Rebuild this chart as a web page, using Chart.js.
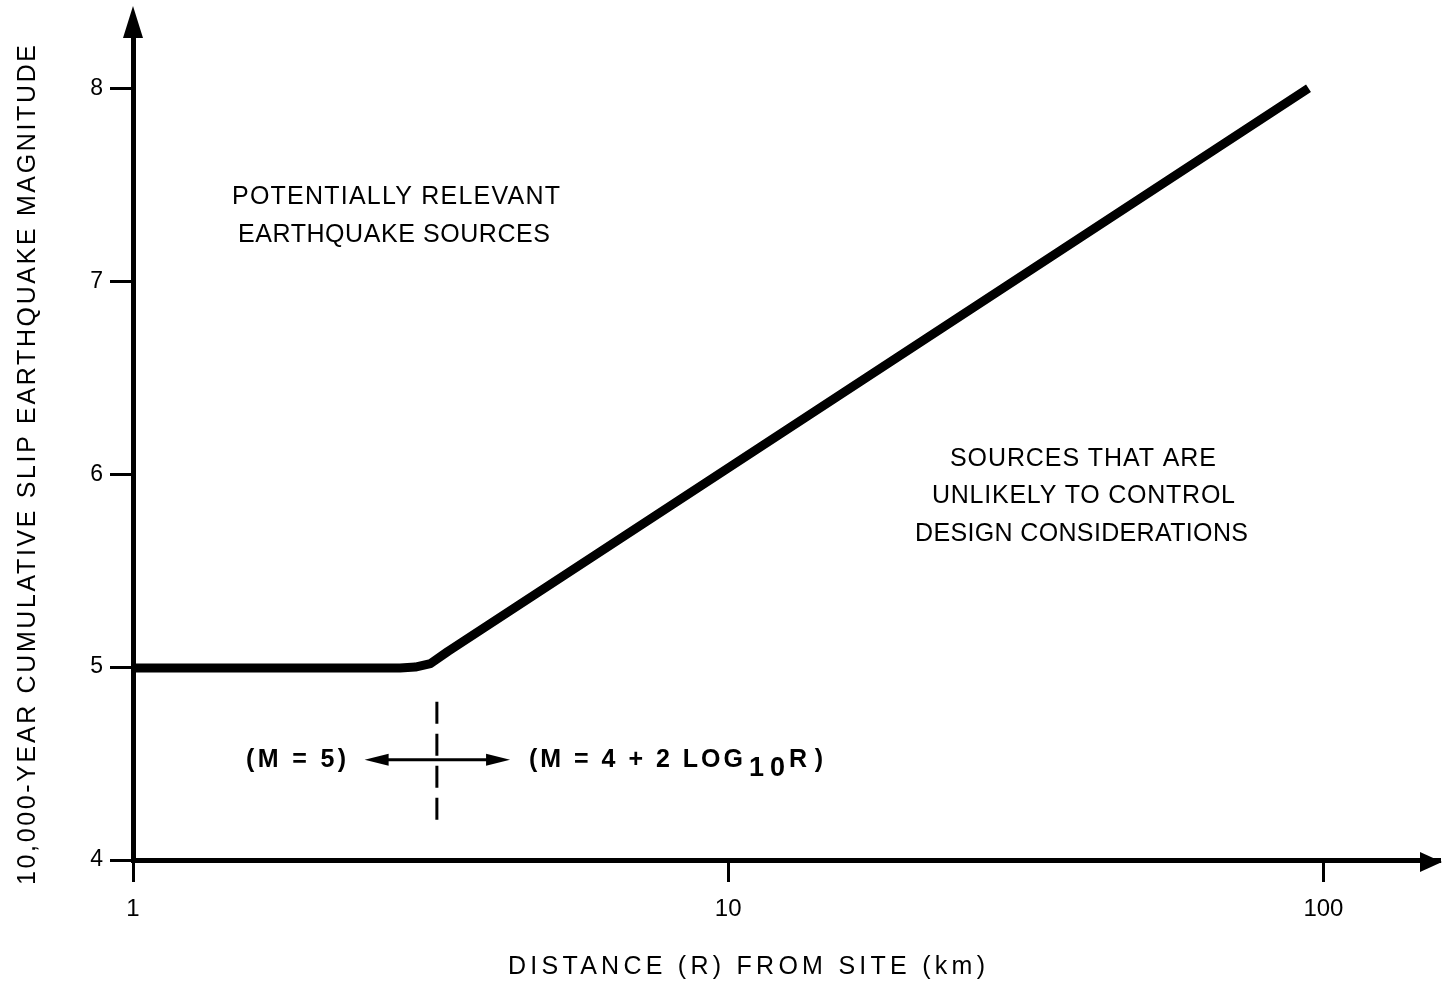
<!DOCTYPE html>
<html>
<head>
<meta charset="utf-8">
<script src="https://cdn.jsdelivr.net/npm/chart.js@4.4.1/dist/chart.umd.min.js"></script>
<style>
  html, body { margin: 0; padding: 0; background: #fff; }
  #wrap { width: 1442px; height: 981px; }
</style>
</head>
<body>
<div id="wrap"><canvas id="magChart"></canvas></div>
<script>
// threshold curve: M = 5 near the site, then M = 4 + 2 log10 R
const distanceKm = [1, 2.81, 2.98, 3.16, 3.38, 94.4];
const magnitude = [4.995, 4.995, 5.0, 5.018, 5.081, 8.0];
const xTicks = [1, 10, 100];
const yTicks = [4, 5, 6, 7, 8];
const xTitle = 'DISTANCE (R) FROM SITE (km)';
const yTitle = '10,000-YEAR CUMULATIVE SLIP EARTHQUAKE MAGNITUDE';
const upperLabel = ['POTENTIALLY RELEVANT', 'EARTHQUAKE SOURCES'];
const lowerLabel = ['SOURCES THAT ARE', 'UNLIKELY TO CONTROL', 'DESIGN CONSIDERATIONS'];

const FONT = '"Liberation Sans", Arial, Helvetica, sans-serif';

// draw text stretched (by letter spacing) to a given width, starting at x
function fitText(ctx, text, x, y, width) {
  ctx.letterSpacing = '0px';
  const w = ctx.measureText(text).width;
  ctx.letterSpacing = ((width - w) / (text.length - 1)) + 'px';
  ctx.textAlign = 'left';
  ctx.fillText(text, x, y);
  ctx.letterSpacing = '0px';
}

function arrowHead(ctx, tipX, tipY, dx, dy, len, half) {
  const bx = tipX - dx * len, by = tipY - dy * len;
  ctx.beginPath();
  ctx.moveTo(tipX, tipY);
  ctx.lineTo(bx - dy * half, by + dx * half);
  ctx.lineTo(bx + dy * half, by - dx * half);
  ctx.closePath();
  ctx.fill();
}

const extras = {
  id: 'extras',
  afterDraw(chart) {
    const ctx = chart.ctx;
    const xs = chart.scales.x, ys = chart.scales.y;
    const area = chart.chartArea;
    const X = v => xs.getPixelForValue(v), Y = v => ys.getPixelForValue(v);
    ctx.save();
    ctx.fillStyle = '#000';
    ctx.strokeStyle = '#000';

    // axis arrow heads
    ctx.fillRect(area.left - 2.5, 30, 5, area.top - 28);
    arrowHead(ctx, area.left, 6, 0, -1, 32, 10);
    arrowHead(ctx, 1442, area.bottom + 2, 1, 0, 22, 10);

    // region labels
    ctx.font = '25px ' + FONT;
    ctx.textBaseline = 'middle';
    fitText(ctx, upperLabel[0], 232, Y(7.435), 328);
    fitText(ctx, upperLabel[1], 238, Y(7.238), 312);
    fitText(ctx, lowerLabel[0], 950, Y(6.08), 266);
    fitText(ctx, lowerLabel[1], 932, Y(5.885), 303);
    fitText(ctx, lowerLabel[2], 915, Y(5.688), 333);

    // dashed divider at the knee
    ctx.lineWidth = 3;
    ctx.setLineDash([22, 10]);
    ctx.beginPath();
    ctx.moveTo(X(3.24), Y(4.82));
    ctx.lineTo(X(3.24), Y(4.20));
    ctx.stroke();
    ctx.setLineDash([]);

    // double arrow
    const ay = Y(4.52);
    const a1 = X(2.45), a2 = X(4.30);
    ctx.lineWidth = 3;
    ctx.beginPath();
    ctx.moveTo(a1 + 10, ay);
    ctx.lineTo(a2 - 10, ay);
    ctx.stroke();
    arrowHead(ctx, a1, ay, -1, 0, 24, 6);
    arrowHead(ctx, a2, ay, 1, 0, 24, 6);

    // equations
    ctx.font = 'bold 25px ' + FONT;
    fitText(ctx, '(M = 5)', 246, ay, 100);
    fitText(ctx, '(M = 4 + 2 LOG', 529, ay, 214);
    ctx.font = 'bold 27px ' + FONT;
    fitText(ctx, '10', 749, ay + 9, 36);
    ctx.font = 'bold 25px ' + FONT;
    fitText(ctx, 'R)', 789, ay, 34);

    // axis titles
    ctx.font = '25px ' + FONT;
    fitText(ctx, xTitle, 508, 967, 477);
    ctx.translate(28, 885);
    ctx.rotate(-Math.PI / 2);
    fitText(ctx, yTitle, 0, 0, 840);
    ctx.restore();
  }
};

const ctx = document.getElementById('magChart').getContext('2d');
const magChart = new Chart(ctx, {
  type: 'line',
  data: {
    datasets: [{
      label: 'threshold',
      data: distanceKm.map((r, i) => ({ x: r, y: magnitude[i] })),
      borderColor: '#000',
      borderWidth: 9,
      borderCapStyle: 'butt',
      borderJoinStyle: 'round',
      pointRadius: 0,
      tension: 0,
      fill: false
    }]
  },
  options: {
    responsive: true,
    maintainAspectRatio: false,
    animation: false,
    devicePixelRatio: 1,
    layout: { padding: { top: 10, right: 2, left: 0, bottom: 0 } },
    plugins: { legend: { display: false }, tooltip: { enabled: false } },
    scales: {
      x: {
        type: 'logarithmic',
        min: 1,
        max: 157,
        afterBuildTicks: s => { s.ticks = xTicks.map(v => ({ value: v })); },
        afterFit: s => { s.height = 121; },
        ticks: {
          callback: v => String(v),
          color: '#000',
          font: { family: FONT, size: 24 },
          padding: 13,
          maxRotation: 0,
          autoSkip: false
        },
        grid: { drawOnChartArea: false, tickLength: 22, tickWidth: 3, tickColor: '#000' },
        border: { color: '#000', width: 5 }
      },
      y: {
        min: 4,
        max: 8.35,
        afterBuildTicks: s => { s.ticks = yTicks.map(v => ({ value: v })); },
        afterFit: s => { s.width = 133; },
        ticks: {
          color: '#000',
          font: { family: FONT, size: 23 },
          padding: 7
        },
        grid: { drawOnChartArea: false, tickLength: 23, tickWidth: 3, tickColor: '#000' },
        border: { color: '#000', width: 5 }
      }
    }
  },
  plugins: [extras]
});
</script>
</body>
</html>
